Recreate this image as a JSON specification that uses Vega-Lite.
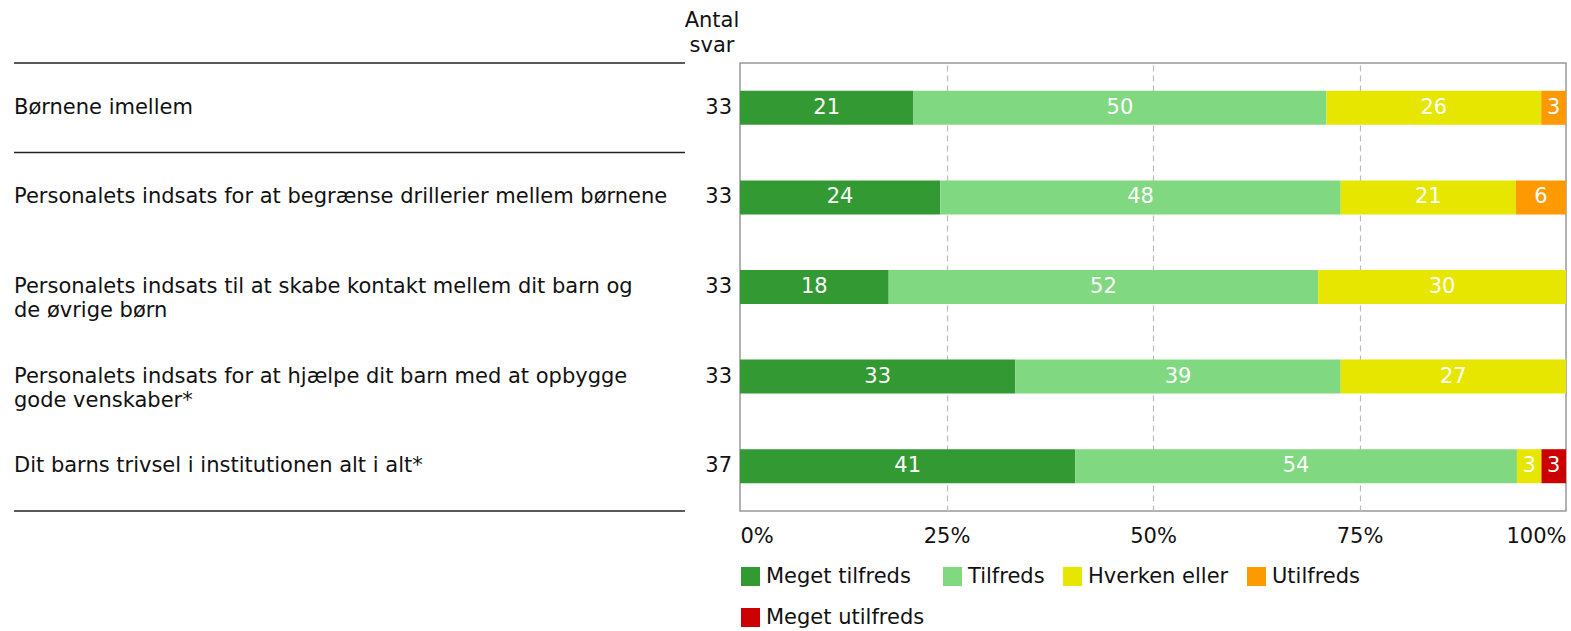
{
  "$schema": "https://vega.github.io/schema/vega-lite/v6.json",
  "padding": {"left": 13, "top": 10, "right": 5, "bottom": 5},
  "background": "white",
  "bounds": "flush",
  "config": {
    "font": "DejaVu Sans",
    "view": {"stroke": "#999999", "strokeWidth": 1.5},
    "concat": {"spacing": 55}
  },
  "title": {
    "text": ["Antal", "svar"],
    "anchor": "start",
    "frame": "group",
    "align": "center",
    "dx": 698,
    "fontSize": 21,
    "fontWeight": "normal",
    "font": "DejaVu Sans",
    "color": "#111111",
    "lineHeight": 25,
    "offset": 6
  },
  "datasets": {
    "q": [
      {"q": "Børnene imellem", "n": 33},
      {"q": "Personalets indsats for at begrænse drillerier mellem børnene", "n": 33},
      {"q": "Personalets indsats til at skabe kontakt mellem dit barn og|de øvrige børn", "n": 33},
      {"q": "Personalets indsats for at hjælpe dit barn med at opbygge|gode venskaber*", "n": 33},
      {"q": "Dit barns trivsel i institutionen alt i alt*", "n": 37}
    ],
    "sep": [
      {"q": "Børnene imellem", "edge": "top"},
      {"q": "Personalets indsats for at begrænse drillerier mellem børnene", "edge": "top"},
      {"q": "Dit barns trivsel i institutionen alt i alt*", "edge": "bottom"}
    ],
    "d": [
      {"q": "Børnene imellem", "s": "Meget tilfreds", "k": 1, "v": 21},
      {"q": "Børnene imellem", "s": "Tilfreds", "k": 2, "v": 50},
      {"q": "Børnene imellem", "s": "Hverken eller", "k": 3, "v": 26},
      {"q": "Børnene imellem", "s": "Utilfreds", "k": 4, "v": 3},
      {"q": "Personalets indsats for at begrænse drillerier mellem børnene", "s": "Meget tilfreds", "k": 1, "v": 24},
      {"q": "Personalets indsats for at begrænse drillerier mellem børnene", "s": "Tilfreds", "k": 2, "v": 48},
      {"q": "Personalets indsats for at begrænse drillerier mellem børnene", "s": "Hverken eller", "k": 3, "v": 21},
      {"q": "Personalets indsats for at begrænse drillerier mellem børnene", "s": "Utilfreds", "k": 4, "v": 6},
      {"q": "Personalets indsats til at skabe kontakt mellem dit barn og|de øvrige børn", "s": "Meget tilfreds", "k": 1, "v": 18},
      {"q": "Personalets indsats til at skabe kontakt mellem dit barn og|de øvrige børn", "s": "Tilfreds", "k": 2, "v": 52},
      {"q": "Personalets indsats til at skabe kontakt mellem dit barn og|de øvrige børn", "s": "Hverken eller", "k": 3, "v": 30},
      {"q": "Personalets indsats for at hjælpe dit barn med at opbygge|gode venskaber*", "s": "Meget tilfreds", "k": 1, "v": 33},
      {"q": "Personalets indsats for at hjælpe dit barn med at opbygge|gode venskaber*", "s": "Tilfreds", "k": 2, "v": 39},
      {"q": "Personalets indsats for at hjælpe dit barn med at opbygge|gode venskaber*", "s": "Hverken eller", "k": 3, "v": 27},
      {"q": "Dit barns trivsel i institutionen alt i alt*", "s": "Meget tilfreds", "k": 1, "v": 41},
      {"q": "Dit barns trivsel i institutionen alt i alt*", "s": "Tilfreds", "k": 2, "v": 54},
      {"q": "Dit barns trivsel i institutionen alt i alt*", "s": "Hverken eller", "k": 3, "v": 3},
      {"q": "Dit barns trivsel i institutionen alt i alt*", "s": "Meget utilfreds", "k": 5, "v": 3}
    ]
  },
  "hconcat": [
    {
      "width": 671,
      "height": 448,
      "view": {"stroke": null},
      "layer": [
        {
          "data": {"name": "q"},
          "mark": {"type": "text", "align": "left", "baseline": "middle", "fontSize": 21, "lineBreak": "|", "lineHeight": 24, "color": "#111111"},
          "encoding": {
            "y": {"field": "q", "type": "nominal", "sort": null, "axis": null, "scale": {"paddingInner": 0, "paddingOuter": 0}},
            "x": {"datum": 0, "type": "quantitative", "scale": {"domain": [0, 1]}, "axis": null},
            "text": {"field": "q"}
          }
        },
        {
          "data": {"name": "sep"},
          "transform": [{"filter": "datum.edge == 'top'"}],
          "mark": {"type": "rule", "color": "#222222", "strokeWidth": 1.5},
          "encoding": {
            "y": {"field": "q", "type": "nominal", "sort": null, "bandPosition": 0},
            "x": {"datum": 0, "type": "quantitative"},
            "x2": {"datum": 1}
          }
        },
        {
          "data": {"name": "sep"},
          "transform": [{"filter": "datum.edge == 'bottom'"}],
          "mark": {"type": "rule", "color": "#222222", "strokeWidth": 1.5},
          "encoding": {
            "y": {"field": "q", "type": "nominal", "sort": null, "bandPosition": 1},
            "x": {"datum": 0, "type": "quantitative"},
            "x2": {"datum": 1}
          }
        }
      ]
    },
    {
      "width": 826,
      "height": 448,
      "layer": [
        {
          "data": {"name": "d"},
          "mark": {"type": "bar", "height": 34},
          "encoding": {
            "y": {"field": "q", "type": "nominal", "sort": null, "axis": null, "scale": {"paddingInner": 0, "paddingOuter": 0}},
            "x": {
              "field": "v", "type": "quantitative", "stack": "normalize",
              "scale": {"domain": [0, 1]},
              "axis": {
                "values": [0, 0.25, 0.5, 0.75, 1],
                "format": ".0%",
                "title": null,
                "domain": false,
                "ticks": false,
                "labelFontSize": 21,
                "labelColor": "#111111",
                "labelPadding": 14,
                "labelFlush": true,
                "grid": true,
                "gridColor": "#bbbbbb",
                "gridDash": [6, 4],
                "gridWidth": 1.2,
                "gridOpacity": {"condition": {"test": "datum.value == 0 || datum.value == 1", "value": 0}, "value": 1}
              }
            },
            "color": {
              "field": "s", "type": "nominal",
              "scale": {
                "domain": ["Meget tilfreds", "Tilfreds", "Hverken eller", "Utilfreds", "Meget utilfreds"],
                "range": ["#339933", "#80d980", "#e6e600", "#ff9900", "#cc0000"]
              },
              "legend": {
                "title": null,
                "orient": "none",
                "legendX": 726,
                "legendY": 503,
                "direction": "horizontal",
                "columns": 4,
                "gridAlign": "none",
                "columnPadding": 17,
                "rowPadding": 19,
                "symbolType": "square",
                "symbolSize": 361,
                "symbolStrokeWidth": 0,
                "symbolOpacity": 1,
                "labelFontSize": 21,
                "labelColor": "#111111",
                "labelOffset": 5,
                "labelLimit": 400
              }
            },
            "order": {"field": "k"}
          }
        },
        {
          "data": {"name": "d"},
          "mark": {"type": "text", "color": "white", "fontSize": 21, "baseline": "middle", "align": "center"},
          "encoding": {
            "y": {"field": "q", "type": "nominal", "sort": null},
            "x": {"field": "v", "type": "quantitative", "stack": "normalize", "bandPosition": 0.5},
            "detail": {"field": "s"},
            "order": {"field": "k"},
            "text": {"field": "v"}
          }
        },
        {
          "data": {"name": "q"},
          "mark": {"type": "text", "align": "right", "baseline": "middle", "fontSize": 21, "dx": -8, "color": "#111111"},
          "encoding": {
            "y": {"field": "q", "type": "nominal", "sort": null},
            "x": {"datum": 0, "type": "quantitative"},
            "text": {"field": "n"}
          }
        }
      ]
    }
  ]
}
